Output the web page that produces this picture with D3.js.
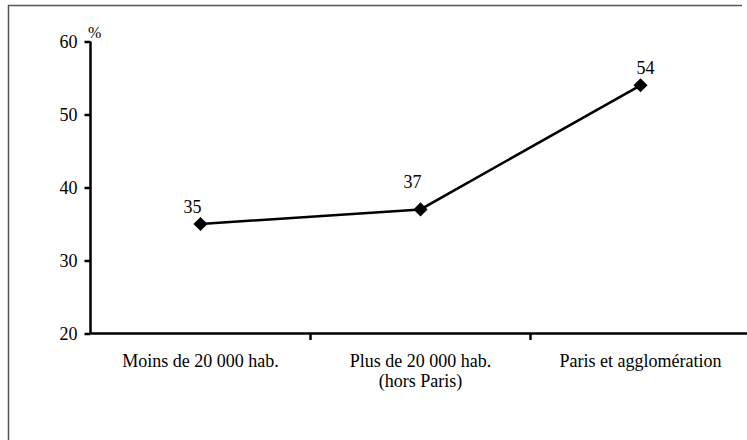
<!DOCTYPE html>
<html>
<head>
<meta charset="utf-8">
<script src="https://cdn.jsdelivr.net/npm/d3@7"></script>
<style>
  html, body { margin: 0; padding: 0; background: #fff; }
  svg { display: block; }
  svg text { font-family: "Liberation Serif", "Times New Roman", serif !important; fill: #000; }
</style>
</head>
<body>
<svg id="chart" width="747" height="440"></svg>
<script>
const categories = [
  ["Moins de 20 000 hab."],
  ["Plus de 20 000 hab.", "(hors Paris)"],
  ["Paris et agglomération"]
];
const values = [35, 37, 54];
const yTicks = [20, 30, 40, 50, 60];
const unitLabel = "%";

const FONT = '"Liberation Serif", "Times New Roman", serif';
const svg = d3.select("#chart");

// frame (only top and left edges are visible in the crop)
svg.append("path")
  .attr("d", "M8.5,440V5.5H742")
  .attr("fill", "none")
  .attr("stroke", "#555")
  .attr("stroke-width", 1.5);

const keys = categories.map((c, i) => i);
const x = d3.scaleBand().domain(keys).range([90.5, 750.5]).paddingInner(0).paddingOuter(0);
const y = d3.scaleLinear().domain([20, 60]).range([333.5, 41.5]);

// Y axis
const yAxis = svg.append("g")
  .attr("transform", "translate(90.5,0)")
  .call(d3.axisLeft(y).tickValues(yTicks).tickSize(6).tickPadding(7).tickFormat(d3.format("d")))
  .attr("font-family", FONT)
  .attr("font-size", 18);
yAxis.select(".domain").attr("d", `M0,${y(60)}V${y(20)}`).attr("stroke", "#000").attr("stroke-width", 2.5);
yAxis.selectAll(".tick line").attr("stroke", "#000").attr("stroke-width", 2.5);
yAxis.selectAll(".tick text").style("font-size", "18px");

// X axis
const xAxisG = svg.append("g").attr("transform", `translate(0,${y(20)})`);
xAxisG.append("line")
  .attr("x1", x.range()[0]).attr("x2", x.range()[1])
  .attr("stroke", "#000").attr("stroke-width", 2.5);
const boundaries = keys.slice(1).map(k => x(k)).concat([x.range()[1]]);
xAxisG.selectAll("line.tick").data(boundaries).join("line")
  .attr("class", "tick")
  .attr("x1", d => d).attr("x2", d => d)
  .attr("y1", 0).attr("y2", 6.5)
  .attr("stroke", "#000").attr("stroke-width", 2.5);
const xl = xAxisG.selectAll("text.cat").data(categories).join("text")
  .attr("class", "cat")
  .attr("text-anchor", "middle")
  .style("font-size", "18px")
  .attr("transform", (d, i) => `translate(${x(i) + x.bandwidth() / 2},33)`);
xl.selectAll("tspan").data(d => d).join("tspan")
  .attr("x", 0)
  .attr("dy", (d, i) => i === 0 ? 0 : 20)
  .text(d => d);

// Line
const cx = i => x(i) + x.bandwidth() / 2;
svg.append("path")
  .datum(values)
  .attr("fill", "none")
  .attr("stroke", "#000")
  .attr("stroke-width", 2.5)
  .attr("d", d3.line().x((d, i) => cx(i)).y(d => y(d)));

// Markers
svg.selectAll("path.marker").data(values).join("path")
  .attr("class", "marker")
  .attr("d", d3.symbol().type(d3.symbolSquare).size(100))
  .attr("fill", "#000")
  .attr("transform", (d, i) => `translate(${cx(i)},${y(d)}) rotate(45)`);

// Data labels (placed above the marker, clear of the line)
svg.selectAll("text.val").data(values).join("text")
  .attr("class", "val")
  .attr("text-anchor", "middle")
  .style("font-size", "18px")
  .attr("x", (d, i) => cx(i) + (i === 2 ? 5 : -8))
  .attr("y", (d, i) => y(d) - (i === 1 ? 21 : 11))
  .text(d => d);

// Unit label
svg.append("text")
  .attr("x", 88).attr("y", 38)
  .style("font-size", "16px")
  .text(unitLabel);
</script>
</body>
</html>
